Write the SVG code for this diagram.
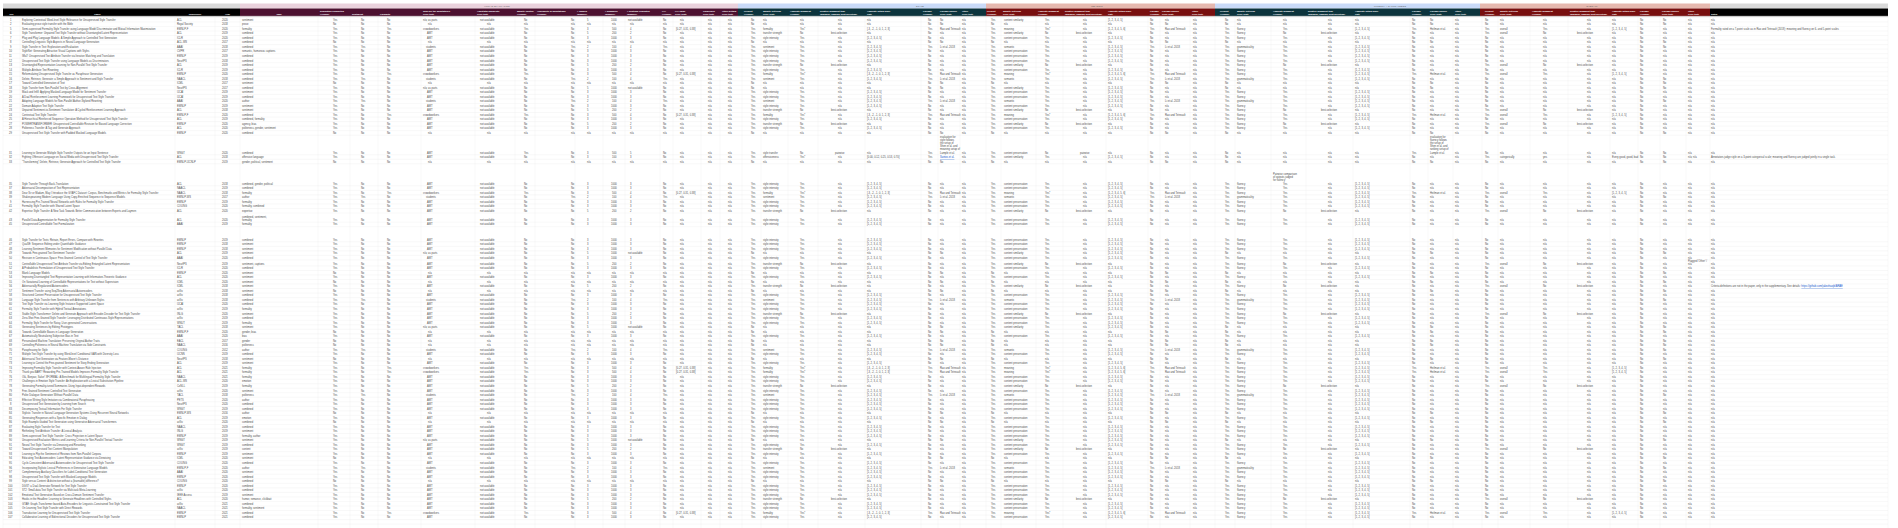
<svg xmlns="http://www.w3.org/2000/svg" width="1898" height="528" viewBox="0 0 1898 528">
<style>
text{font-family:"Liberation Sans",Arial,sans-serif}
.d{font-size:2.6px;fill:#4a4a4a}
.h{font-size:2.3px;fill:#fff;font-weight:bold}
.m{text-anchor:middle}
.gl{font-size:2.2px;fill:#5a5a5a;text-anchor:middle;letter-spacing:.2px}
.lk{fill:#1155cc;text-decoration:underline}
.grid{stroke:#e6e6e6;stroke-width:.3;fill:none}
</style>
<defs>
<g id="tA"><text class="d"><tspan x="333">Yes</tspan><tspan x="361">No</tspan><tspan x="387">No</tspan><tspan x="427">AMT</tspan><tspan x="480">not available</tspan><tspan x="524">No</tspan><tspan x="571">No</tspan><tspan x="587">3</tspan><tspan x="611">1000</tspan><tspan x="630">3</tspan><tspan x="663">No</tspan><tspan x="680">n/a</tspan><tspan x="708">n/a</tspan><tspan x="728">n/a</tspan><tspan x="751">Yes</tspan><tspan x="763">style intensity</tspan><tspan x="800">Yes</tspan><tspan x="838">n/a</tspan><tspan x="867">[1, 2, 3, 4, 5]</tspan><tspan x="928">No</tspan><tspan x="940">n/a</tspan><tspan x="962">n/a</tspan><tspan x="991">Yes</tspan><tspan x="1004">content preservation</tspan><tspan x="1045">Yes</tspan><tspan x="1083">n/a</tspan><tspan x="1108">[1, 2, 3, 4, 5]</tspan><tspan x="1150">No</tspan><tspan x="1165">n/a</tspan><tspan x="1193">n/a</tspan><tspan x="1225">Yes</tspan><tspan x="1237">fluency</tspan><tspan x="1283">Yes</tspan><tspan x="1328">n/a</tspan><tspan x="1355">[1, 2, 3, 4, 5]</tspan><tspan x="1412">No</tspan><tspan x="1430">n/a</tspan><tspan x="1455">n/a</tspan><tspan x="1485">No</tspan><tspan x="1500">n/a</tspan><tspan x="1543">n/a</tspan><tspan x="1587">n/a</tspan><tspan x="1612">n/a</tspan><tspan x="1640">No</tspan><tspan x="1663">n/a</tspan><tspan x="1688">n/a</tspan></text></g>
<g id="tB"><text class="d"><tspan x="333">No</tspan><tspan x="361">No</tspan><tspan x="387">No</tspan><tspan x="428">n/a</tspan><tspan x="487">n/a</tspan><tspan x="524">n/a</tspan><tspan x="571">n/a</tspan><tspan x="587">n/a</tspan><tspan x="612">n/a</tspan><tspan x="630">n/a</tspan><tspan x="663">n/a</tspan><tspan x="680">n/a</tspan><tspan x="708">n/a</tspan><tspan x="728">n/a</tspan><tspan x="751">No</tspan><tspan x="763">n/a</tspan><tspan x="800">n/a</tspan><tspan x="838">n/a</tspan><tspan x="867">n/a</tspan><tspan x="928">No</tspan><tspan x="940">No</tspan><tspan x="962">n/a</tspan><tspan x="991">No</tspan><tspan x="1004">n/a</tspan><tspan x="1045">n/a</tspan><tspan x="1083">n/a</tspan><tspan x="1108">n/a</tspan><tspan x="1150">No</tspan><tspan x="1165">No</tspan><tspan x="1193">n/a</tspan><tspan x="1225">No</tspan><tspan x="1237">n/a</tspan><tspan x="1283">n/a</tspan><tspan x="1328">n/a</tspan><tspan x="1355">n/a</tspan><tspan x="1412">No</tspan><tspan x="1430">No</tspan><tspan x="1455">n/a</tspan><tspan x="1485">No</tspan><tspan x="1500">n/a</tspan><tspan x="1543">n/a</tspan><tspan x="1587">n/a</tspan><tspan x="1612">n/a</tspan><tspan x="1640">No</tspan><tspan x="1663">No</tspan><tspan x="1688">n/a</tspan></text></g>
<g id="tC"><text class="d"><tspan x="333">Yes</tspan><tspan x="361">No</tspan><tspan x="387">No</tspan><tspan x="427">AMT</tspan><tspan x="480">not available</tspan><tspan x="524">No</tspan><tspan x="571">No</tspan><tspan x="587">5</tspan><tspan x="612">200</tspan><tspan x="630">2</tspan><tspan x="663">No</tspan><tspan x="680">n/a</tspan><tspan x="708">n/a</tspan><tspan x="728">n/a</tspan><tspan x="751">Yes</tspan><tspan x="763">transfer strength</tspan><tspan x="800">No</tspan><tspan x="831">best-selection</tspan><tspan x="867">n/a</tspan><tspan x="928">No</tspan><tspan x="940">n/a</tspan><tspan x="962">n/a</tspan><tspan x="991">Yes</tspan><tspan x="1004">content similarity</tspan><tspan x="1045">No</tspan><tspan x="1076">best-selection</tspan><tspan x="1108">n/a</tspan><tspan x="1150">No</tspan><tspan x="1165">n/a</tspan><tspan x="1193">n/a</tspan><tspan x="1225">Yes</tspan><tspan x="1237">fluency</tspan><tspan x="1283">No</tspan><tspan x="1321">best-selection</tspan><tspan x="1355">n/a</tspan><tspan x="1412">No</tspan><tspan x="1430">n/a</tspan><tspan x="1455">n/a</tspan><tspan x="1485">Yes</tspan><tspan x="1500">overall</tspan><tspan x="1543">No</tspan><tspan x="1577">best-selection</tspan><tspan x="1612">n/a</tspan><tspan x="1640">No</tspan><tspan x="1663">n/a</tspan><tspan x="1688">n/a</tspan></text></g>
<g id="tD"><text class="d"><tspan x="333">Yes</tspan><tspan x="361">No</tspan><tspan x="387">No</tspan><tspan x="423">n/a; as parts</tspan><tspan x="480">not available</tspan><tspan x="524">No</tspan><tspan x="571">No</tspan><tspan x="587">5</tspan><tspan x="611">1000</tspan><tspan x="628">not available</tspan><tspan x="663">No</tspan><tspan x="680">n/a</tspan><tspan x="708">n/a</tspan><tspan x="728">n/a</tspan><tspan x="751">No</tspan><tspan x="763">n/a</tspan><tspan x="800">n/a</tspan><tspan x="838">n/a</tspan><tspan x="867">n/a</tspan><tspan x="928">No</tspan><tspan x="940">No</tspan><tspan x="962">n/a</tspan><tspan x="991">Yes</tspan><tspan x="1004">content similarity</tspan><tspan x="1045">Yes</tspan><tspan x="1083">n/a</tspan><tspan x="1108">[1, 2, 3, 4, 5]</tspan><tspan x="1150">No</tspan><tspan x="1165">n/a</tspan><tspan x="1193">n/a</tspan><tspan x="1225">No</tspan><tspan x="1237">n/a</tspan><tspan x="1283">n/a</tspan><tspan x="1328">n/a</tspan><tspan x="1355">n/a</tspan><tspan x="1412">No</tspan><tspan x="1430">No</tspan><tspan x="1455">n/a</tspan><tspan x="1485">No</tspan><tspan x="1500">n/a</tspan><tspan x="1543">n/a</tspan><tspan x="1587">n/a</tspan><tspan x="1612">n/a</tspan><tspan x="1640">No</tspan><tspan x="1663">No</tspan><tspan x="1688">n/a</tspan></text></g>
<g id="tE"><text class="d"><tspan x="333">Yes</tspan><tspan x="361">No</tspan><tspan x="387">Yes</tspan><tspan x="423">crowdworkers</tspan><tspan x="480">not available</tspan><tspan x="524">Yes</tspan><tspan x="571">No</tspan><tspan x="587">3</tspan><tspan x="612">500</tspan><tspan x="630">4</tspan><tspan x="663">No</tspan><tspan x="676">[0.27, 0.31, 0.38]</tspan><tspan x="708">n/a</tspan><tspan x="728">n/a</tspan><tspan x="751">Yes</tspan><tspan x="763">formality</tspan><tspan x="800">Yes*</tspan><tspan x="838">n/a</tspan><tspan x="867">[-3, -2, -1, 0, 1, 2, 3]</tspan><tspan x="928">Yes</tspan><tspan x="940">Rao and Tetreault</tspan><tspan x="962">n/a</tspan><tspan x="991">Yes</tspan><tspan x="1004">meaning</tspan><tspan x="1045">Yes*</tspan><tspan x="1083">n/a</tspan><tspan x="1108">[1, 2, 3, 4, 5, 6]</tspan><tspan x="1150">Yes</tspan><tspan x="1165">Rao and Tetreault</tspan><tspan x="1193">n/a</tspan><tspan x="1225">Yes</tspan><tspan x="1237">fluency</tspan><tspan x="1283">Yes</tspan><tspan x="1328">n/a</tspan><tspan x="1355">[1, 2, 3, 4, 5]</tspan><tspan x="1412">Yes</tspan><tspan x="1430">Heilman et al.</tspan><tspan x="1455">n/a</tspan><tspan x="1485">Yes</tspan><tspan x="1500">overall</tspan><tspan x="1543">Yes</tspan><tspan x="1587">n/a</tspan><tspan x="1612">[1, 2, 3, 4, 5]</tspan><tspan x="1640">No</tspan><tspan x="1663">n/a</tspan><tspan x="1688">n/a</tspan></text></g>
<g id="tF"><text class="d"><tspan x="333">Yes</tspan><tspan x="361">Yes</tspan><tspan x="387">No</tspan><tspan x="426">students</tspan><tspan x="480">not available</tspan><tspan x="524">No</tspan><tspan x="571">Yes</tspan><tspan x="587">2</tspan><tspan x="612">100</tspan><tspan x="630">4</tspan><tspan x="663">Yes</tspan><tspan x="680">n/a</tspan><tspan x="708">n/a</tspan><tspan x="728">n/a</tspan><tspan x="751">Yes</tspan><tspan x="763">sentiment</tspan><tspan x="800">Yes</tspan><tspan x="838">n/a</tspan><tspan x="867">[1, 2, 3, 4, 5]</tspan><tspan x="928">Yes</tspan><tspan x="940">Li et al. 2018</tspan><tspan x="962">n/a</tspan><tspan x="991">Yes</tspan><tspan x="1004">semantic</tspan><tspan x="1045">Yes</tspan><tspan x="1083">n/a</tspan><tspan x="1108">[1, 2, 3, 4, 5]</tspan><tspan x="1150">Yes</tspan><tspan x="1165">Li et al. 2018</tspan><tspan x="1193">n/a</tspan><tspan x="1225">Yes</tspan><tspan x="1237">grammaticality</tspan><tspan x="1283">Yes</tspan><tspan x="1328">n/a</tspan><tspan x="1355">[1, 2, 3, 4, 5]</tspan><tspan x="1412">No</tspan><tspan x="1430">n/a</tspan><tspan x="1455">n/a</tspan><tspan x="1485">No</tspan><tspan x="1500">n/a</tspan><tspan x="1543">n/a</tspan><tspan x="1587">n/a</tspan><tspan x="1612">n/a</tspan><tspan x="1640">No</tspan><tspan x="1663">No</tspan><tspan x="1688">n/a</tspan></text></g>
</defs>
<rect width="1898" height="528" fill="#fff"/>
<g id="header-bands">
<rect x="3" y="3.5" width="237" height="5" fill="#d9d9d9"/>
<rect x="240" y="3.5" width="498" height="5" fill="#ead1dc"/>
<rect x="738" y="3.5" width="248" height="5" fill="#c9daf8"/>
<rect x="986" y="3.5" width="229" height="5" fill="#e6b8af"/>
<rect x="1215" y="3.5" width="265" height="5" fill="#c9daf8"/>
<rect x="1480" y="3.5" width="230" height="5" fill="#e6b8af"/>
<rect x="1710" y="3.5" width="178" height="5" fill="#d9d9d9"/>
<rect x="3" y="8.5" width="237" height="7.7" fill="#000"/>
<rect x="240" y="8.5" width="498" height="7.7" fill="#4c1130"/>
<rect x="738" y="8.5" width="248" height="7.7" fill="#0c343d"/>
<rect x="986" y="8.5" width="229" height="7.7" fill="#780f0f"/>
<rect x="1215" y="8.5" width="265" height="7.7" fill="#0c343d"/>
<rect x="1480" y="8.5" width="230" height="7.7" fill="#780f0f"/>
<rect x="1710" y="8.5" width="178" height="7.7" fill="#000"/>
<text class="gl" x="497" y="7.2">HUMAN EVALUATION</text>
<text class="gl" x="920" y="7.2">STYLE</text>
<text class="gl" x="1097" y="7.2">MEANING</text>
<text class="gl" x="1390" y="7.2">FLUENCY / NATURALNESS</text>
<text class="gl" x="1592" y="7.2">OVERALL</text>
</g>
<g id="header-labels" class="h">
<text class="m" x="11.5" y="14.8">Key</text>
<text class="m" x="97.5" y="14.8">Paper</text>
<text class="m" x="195" y="14.8">Conference</text>
<text class="m" x="227.5" y="14.8">Year</text>
<text class="m" x="279" y="14.8">Task</text>
<text><tspan x="320" y="12.1">Evaluation conducted</tspan><tspan x="320" y="14.8">(Yes/No)</tspan></text>
<text x="352" y="14.8">Sentiment</text>
<text x="380" y="14.8">Formality</text>
<text><tspan x="423" y="12.1">Who are the annotators?</tspan><tspan x="423" y="14.8">(Free text)</tspan></text>
<text><tspan x="477" y="12.1">Annotator payment?</tspan><tspan x="477" y="14.8">(Free text)</tspan></text>
<text><tspan x="517" y="12.1">Quality Control</tspan><tspan x="517" y="14.8">(Yes/No)</tspan></text>
<text><tspan x="537" y="12.1">Availability of annotations</tspan><tspan x="537" y="14.8">(Yes/No)</tspan></text>
<text><tspan x="577" y="12.1"># Judges</tspan><tspan x="577" y="14.8">(number)</tspan></text>
<text><tspan x="605" y="12.1"># Examples</tspan><tspan x="605" y="14.8">(number)</tspan></text>
<text><tspan x="627" y="12.1"># Systems evaluated</tspan><tspan x="627" y="14.8">(number)</tspan></text>
<text><tspan x="662" y="12.1">IAA</tspan><tspan x="662" y="14.8">(Yes/No)</tspan></text>
<text><tspan x="675" y="12.1">IAA value</tspan><tspan x="675" y="14.8">(Free Text)</tspan></text>
<text><tspan x="703" y="12.1">Guidelines</tspan><tspan x="703" y="14.8">(Free text)</tspan></text>
<text><tspan x="722" y="12.1">Other Details</tspan><tspan x="722" y="14.8">(Free text)</tspan></text>
<text><tspan x="744" y="12.1">Present</tspan><tspan x="744" y="14.8">(Yes/No)</tspan></text>
<text><tspan x="763" y="12.1">Quality Criterion</tspan><tspan x="763" y="14.8">(Free Text)</tspan></text>
<text><tspan x="790" y="12.1">Absolute judgment</tspan><tspan x="790" y="14.8">(Yes/No)</tspan></text>
<text><tspan x="820" y="12.1">Relative judgment type</tspan><tspan x="820" y="14.8">(pairwise, ranking, best-selection)</tspan></text>
<text><tspan x="867" y="12.1">Absolute rating scale</tspan><tspan x="867" y="14.8">(list)</tspan></text>
<text><tspan x="923" y="12.1">Lineage</tspan><tspan x="923" y="14.8">(Yes/No)</tspan></text>
<text><tspan x="940" y="12.1">Lineage Source</tspan><tspan x="940" y="14.8">(Free Text)</tspan></text>
<text><tspan x="962" y="12.1">Other</tspan><tspan x="962" y="14.8">(Free text)</tspan></text>
<text><tspan x="987" y="12.1">Present</tspan><tspan x="987" y="14.8">(Yes/No)</tspan></text>
<text><tspan x="1003" y="12.1">Quality Criterion</tspan><tspan x="1003" y="14.8">(Free Text)</tspan></text>
<text><tspan x="1038" y="12.1">Absolute judgment</tspan><tspan x="1038" y="14.8">(Yes/No)</tspan></text>
<text><tspan x="1065" y="12.1">Relative judgment type</tspan><tspan x="1065" y="14.8">(pairwise, ranking, best-selection)</tspan></text>
<text><tspan x="1108" y="12.1">Absolute rating scale</tspan><tspan x="1108" y="14.8">(list)</tspan></text>
<text><tspan x="1150" y="12.1">Lineage</tspan><tspan x="1150" y="14.8">(Yes/No)</tspan></text>
<text><tspan x="1162" y="12.1">Lineage Source</tspan><tspan x="1162" y="14.8">(Free Text)</tspan></text>
<text><tspan x="1192" y="12.1">Other</tspan><tspan x="1192" y="14.8">(Free text)</tspan></text>
<text><tspan x="1220" y="12.1">Present</tspan><tspan x="1220" y="14.8">(Yes/No)</tspan></text>
<text><tspan x="1237" y="12.1">Quality Criterion</tspan><tspan x="1237" y="14.8">(Free Text)</tspan></text>
<text><tspan x="1273" y="12.1">Absolute judgment</tspan><tspan x="1273" y="14.8">(Yes/No)</tspan></text>
<text><tspan x="1308" y="12.1">Relative judgment type</tspan><tspan x="1308" y="14.8">(pairwise, ranking, best-selection)</tspan></text>
<text><tspan x="1355" y="12.1">Absolute rating scale</tspan><tspan x="1355" y="14.8">(list)</tspan></text>
<text><tspan x="1412" y="12.1">Lineage</tspan><tspan x="1412" y="14.8">(Yes/No)</tspan></text>
<text><tspan x="1430" y="12.1">Lineage Source</tspan><tspan x="1430" y="14.8">(Free Text)</tspan></text>
<text><tspan x="1455" y="12.1">Other</tspan><tspan x="1455" y="14.8">(Free text)</tspan></text>
<text><tspan x="1485" y="12.1">Present</tspan><tspan x="1485" y="14.8">(Yes/No)</tspan></text>
<text><tspan x="1500" y="12.1">Quality Criterion</tspan><tspan x="1500" y="14.8">(Free Text)</tspan></text>
<text><tspan x="1532" y="12.1">Absolute judgment</tspan><tspan x="1532" y="14.8">(Yes/No)</tspan></text>
<text><tspan x="1570" y="12.1">Relative judgment type</tspan><tspan x="1570" y="14.8">(pairwise, ranking, best-selection)</tspan></text>
<text><tspan x="1612" y="12.1">Absolute rating scale</tspan><tspan x="1612" y="14.8">(list)</tspan></text>
<text><tspan x="1640" y="12.1">Lineage</tspan><tspan x="1640" y="14.8">(Yes/No)</tspan></text>
<text><tspan x="1662" y="12.1">Lineage Source</tspan><tspan x="1662" y="14.8">(Free text)</tspan></text>
<text><tspan x="1688" y="12.1">Other</tspan><tspan x="1688" y="14.8">(Free text)</tspan></text>
<text x="1711" y="14.8">Notes</text>
</g>
<g id="grid" class="grid">
<path d="M3 17.4h1885M3 21.93h1885M3 26.46h1885M3 30.99h1885M3 35.52h1885M3 40.05h1885M3 44.58h1885M3 49.11h1885M3 53.64h1885M3 58.17h1885M3 62.7h1885M3 67.23h1885M3 71.76h1885M3 76.29h1885M3 80.82h1885M3 85.35h1885M3 89.88h1885M3 94.41h1885M3 98.94h1885M3 103.47h1885M3 108h1885M3 112.53h1885M3 117.06h1885M3 121.59h1885M3 126.12h1885M3 130.65h1885M3 135.18h1885M3 154.8h1885M3 159.3h1885M3 163.8h1885M3 185.8h1885M3 190.33h1885M3 194.86h1885M3 199.39h1885M3 203.92h1885M3 208.45h1885M3 212.98h1885M3 222.2h1885M3 226.7h1885M3 241.8h1885M3 246.33h1885M3 250.86h1885M3 255.39h1885M3 259.92h1885M3 265.9h1885M3 270.43h1885M3 274.96h1885M3 279.49h1885M3 284.02h1885M3 288.55h1885M3 293.08h1885M3 297.61h1885M3 302.14h1885M3 306.67h1885M3 311.2h1885M3 315.73h1885M3 320.26h1885M3 324.79h1885M3 329.32h1885M3 333.85h1885M3 338.38h1885M3 342.91h1885M3 347.44h1885M3 351.97h1885M3 356.5h1885M3 361.03h1885M3 365.56h1885M3 370.09h1885M3 374.62h1885M3 379.15h1885M3 383.68h1885M3 388.21h1885M3 392.74h1885M3 397.27h1885M3 401.8h1885M3 406.33h1885M3 410.86h1885M3 415.39h1885M3 419.92h1885M3 424.45h1885M3 428.98h1885M3 433.51h1885M3 438.04h1885M3 442.57h1885M3 447.1h1885M3 451.63h1885M3 456.16h1885M3 460.69h1885M3 465.22h1885M3 469.75h1885M3 474.28h1885M3 478.81h1885M3 483.34h1885M3 487.87h1885M3 492.4h1885M3 496.93h1885M3 501.46h1885M3 505.99h1885M3 510.52h1885M3 515.05h1885M3 519.58h1885M3 524.11h1885"/>
<path d="M3 16.2V528M20 16.2V528M175 16.2V528M215 16.2V528M240 16.2V528M318 16.2V528M350 16.2V528M378 16.2V528M421 16.2V528M475 16.2V528M515 16.2V528M535 16.2V528M575 16.2V528M603 16.2V528M625 16.2V528M660 16.2V528M673 16.2V528M701 16.2V528M720 16.2V528M742 16.2V528M761 16.2V528M788 16.2V528M818 16.2V528M865 16.2V528M921 16.2V528M938 16.2V528M960 16.2V528M986 16.2V528M1001 16.2V528M1036 16.2V528M1063 16.2V528M1106 16.2V528M1148 16.2V528M1160 16.2V528M1190 16.2V528M1215 16.2V528M1235 16.2V528M1271 16.2V528M1306 16.2V528M1353 16.2V528M1410 16.2V528M1428 16.2V528M1453 16.2V528M1482 16.2V528M1498 16.2V528M1530 16.2V528M1568 16.2V528M1610 16.2V528M1638 16.2V528M1660 16.2V528M1686 16.2V528M1710 16.2V528M1888 16.2V528"/>
<path d="M3 16.2h1885" stroke="#c8c8c8" stroke-width=".5"/>
</g>
<g id="rows">
<g id="row-1"><text class="d" y="20.7"><tspan x="10">1</tspan><tspan x="22">Exploring Contextual Word-level Style Relevance for Unsupervised Style Transfer</tspan><tspan x="177">ACL</tspan><tspan x="222">2020</tspan><tspan x="242">sentiment</tspan><tspan x="1711">n/a</tspan></text><use href="#tD" y="20.7"/></g>
<g id="row-2"><text class="d" y="25.2"><tspan x="10">2</tspan><tspan x="22">Evaluating prose style transfer with the Bible</tspan><tspan x="177">Royal Society</tspan><tspan x="222">2018</tspan><tspan x="242">prose</tspan><tspan x="1711">n/a</tspan></text><use href="#tB" y="25.2"/></g>
<g id="row-3"><text class="d" y="29.7"><tspan x="10">5</tspan><tspan x="22">Semi-supervised Formality Style Transfer using Language Model Discriminator and Mutual Information Maximization</tspan><tspan x="177">EMNLP-F</tspan><tspan x="222">2020</tspan><tspan x="242">formality</tspan><tspan x="1711">Formality rated on a 7-point scale as in Rao and Tetreault (2018); meaning and fluency on 6- and 5-point scales</tspan></text><use href="#tE" y="29.7"/></g>
<g id="row-4"><text class="d" y="34.3"><tspan x="10">6</tspan><tspan x="22">Style Transformer: Unpaired Text Style Transfer without Disentangled Latent Representation</tspan><tspan x="177">ACL</tspan><tspan x="222">2019</tspan><tspan x="242">combined</tspan><tspan x="1711">n/a</tspan></text><use href="#tC" y="34.3"/></g>
<g id="row-5"><text class="d" y="38.8"><tspan x="10">7</tspan><tspan x="22">Plug and Play Language Models: A Simple Approach to Controlled Text Generation</tspan><tspan x="177">ICLR</tspan><tspan x="222">2020</tspan><tspan x="242">combined</tspan><tspan x="1711">n/a</tspan></text><use href="#tA" y="38.8"/></g>
<g id="row-6"><text class="d" y="43.3"><tspan x="10">8</tspan><tspan x="22">Controlling Linguistic Style Aspects in Neural Language Generation</tspan><tspan x="177">ACL-WS</tspan><tspan x="222">2017</tspan><tspan x="242">combined</tspan><tspan x="1711">n/a</tspan></text><use href="#tB" y="43.3"/></g>
<g id="row-7"><text class="d" y="47.9"><tspan x="10">9</tspan><tspan x="22">Style Transfer in Text: Exploration and Evaluation</tspan><tspan x="177">AAAI</tspan><tspan x="222">2018</tspan><tspan x="242">combined</tspan><tspan x="1711">n/a</tspan></text><use href="#tF" y="47.9"/></g>
<g id="row-8"><text class="d" y="52.4"><tspan x="9">10</tspan><tspan x="22">StyleNet: Generating Attractive Visual Captions with Styles</tspan><tspan x="177">CVPR</tspan><tspan x="222">2017</tspan><tspan x="242">romantic, humorous captions</tspan><tspan x="1711">n/a</tspan></text><use href="#tA" y="52.4"/></g>
<g id="row-9"><text class="d" y="56.9"><tspan x="9">11</tspan><tspan x="22">IMaT: Unsupervised Text Attribute Transfer via Iterative Matching and Translation</tspan><tspan x="177">EMNLP</tspan><tspan x="222">2019</tspan><tspan x="242">combined</tspan><tspan x="1711">n/a</tspan></text><use href="#tA" y="56.9"/></g>
<g id="row-10"><text class="d" y="61.5"><tspan x="9">12</tspan><tspan x="22">Unsupervised Text Style Transfer using Language Models as Discriminators</tspan><tspan x="177">NeurIPS</tspan><tspan x="222">2018</tspan><tspan x="242">combined</tspan><tspan x="1711">n/a</tspan></text><use href="#tA" y="61.5"/></g>
<g id="row-11"><text class="d" y="66"><tspan x="9">13</tspan><tspan x="22">Disentangled Representation Learning for Non-Parallel Text Style Transfer</tspan><tspan x="177">ACL</tspan><tspan x="222">2019</tspan><tspan x="242">combined</tspan><tspan x="1711">n/a</tspan></text><use href="#tC" y="66"/></g>
<g id="row-12"><text class="d" y="70.5"><tspan x="9">14</tspan><tspan x="22">Multiple-Attribute Text Rewriting</tspan><tspan x="177">ICLR</tspan><tspan x="222">2019</tspan><tspan x="242">combined</tspan><tspan x="1711">n/a</tspan></text><use href="#tA" y="70.5"/></g>
<g id="row-13"><text class="d" y="75"><tspan x="9">15</tspan><tspan x="22">Reformulating Unsupervised Style Transfer as Paraphrase Generation</tspan><tspan x="177">EMNLP</tspan><tspan x="222">2020</tspan><tspan x="242">combined</tspan><tspan x="1711">n/a</tspan></text><use href="#tE" y="75"/></g>
<g id="row-14"><text class="d" y="79.6"><tspan x="9">16</tspan><tspan x="22">Delete, Retrieve, Generate: a Simple Approach to Sentiment and Style Transfer</tspan><tspan x="177">NAACL</tspan><tspan x="222">2018</tspan><tspan x="242">combined</tspan><tspan x="1711">n/a</tspan></text><use href="#tF" y="79.6"/></g>
<g id="row-15"><text class="d" y="84.1"><tspan x="9">17</tspan><tspan x="22">Toward Controlled Generation of Text</tspan><tspan x="177">ICML</tspan><tspan x="222">2017</tspan><tspan x="242">sentiment</tspan><tspan x="1711">n/a</tspan></text><use href="#tB" y="84.1"/></g>
<g id="row-16"><text class="d" y="88.6"><tspan x="9">18</tspan><tspan x="22">Style Transfer from Non-Parallel Text by Cross-Alignment</tspan><tspan x="177">NeurIPS</tspan><tspan x="222">2017</tspan><tspan x="242">combined</tspan><tspan x="1711">n/a</tspan></text><use href="#tD" y="88.6"/></g>
<g id="row-17"><text class="d" y="93.2"><tspan x="9">19</tspan><tspan x="22">Mask and Infill: Applying Masked Language Model for Sentiment Transfer</tspan><tspan x="177">IJCAI</tspan><tspan x="222">2019</tspan><tspan x="242">sentiment</tspan><tspan x="1711">n/a</tspan></text><use href="#tA" y="93.2"/></g>
<g id="row-18"><text class="d" y="97.7"><tspan x="9">20</tspan><tspan x="22">A Dual Reinforcement Learning Framework for Unsupervised Text Style Transfer</tspan><tspan x="177">IJCAI</tspan><tspan x="222">2019</tspan><tspan x="242">combined</tspan><tspan x="1711">n/a</tspan></text><use href="#tA" y="97.7"/></g>
<g id="row-19"><text class="d" y="102.2"><tspan x="9">21</tspan><tspan x="22">Adapting Language Models for Non-Parallel Author-Stylized Rewriting</tspan><tspan x="177">AAAI</tspan><tspan x="222">2020</tspan><tspan x="242">author</tspan><tspan x="1711">n/a</tspan></text><use href="#tF" y="102.2"/></g>
<g id="row-20"><text class="d" y="106.8"><tspan x="9">22</tspan><tspan x="22">Domain Adaptive Text Style Transfer</tspan><tspan x="177">EMNLP</tspan><tspan x="222">2019</tspan><tspan x="242">sentiment</tspan><tspan x="1711">n/a</tspan></text><use href="#tA" y="106.8"/></g>
<g id="row-21"><text class="d" y="111.3"><tspan x="9">23</tspan><tspan x="22">Unpaired Sentiment-to-Sentiment Translation: A Cycled Reinforcement Learning Approach</tspan><tspan x="177">ACL</tspan><tspan x="222">2018</tspan><tspan x="242">sentiment</tspan><tspan x="1711">n/a</tspan></text><use href="#tC" y="111.3"/></g>
<g id="row-22"><text class="d" y="115.8"><tspan x="9">24</tspan><tspan x="22">Contextual Text Style Transfer</tspan><tspan x="177">EMNLP-F</tspan><tspan x="222">2020</tspan><tspan x="242">combined</tspan><tspan x="1711">n/a</tspan></text><use href="#tE" y="115.8"/></g>
<g id="row-23"><text class="d" y="120.3"><tspan x="9">25</tspan><tspan x="22">A Hierarchical Reinforced Sequence Operation Method for Unsupervised Text Style Transfer</tspan><tspan x="177">ACL</tspan><tspan x="222">2019</tspan><tspan x="242">combined, formality</tspan><tspan x="1711">n/a</tspan></text><use href="#tA" y="120.3"/></g>
<g id="row-24"><text class="d" y="124.9"><tspan x="9">27</tspan><tspan x="22">POWERTRANSFORMER: Unsupervised Controllable Revision for Biased Language Correction</tspan><tspan x="177">EMNLP</tspan><tspan x="222">2020</tspan><tspan x="242">agency, bias</tspan><tspan x="1711">n/a</tspan></text><use href="#tC" y="124.9"/></g>
<g id="row-25"><text class="d" y="129.4"><tspan x="9">28</tspan><tspan x="22">Politeness Transfer: A Tag and Generate Approach</tspan><tspan x="177">ACL</tspan><tspan x="222">2020</tspan><tspan x="242">politeness, gender, sentiment</tspan><tspan x="1711">n/a</tspan></text><use href="#tA" y="129.4"/></g>
<g id="row-26"><text class="d" y="133.9"><tspan x="9">29</tspan><tspan x="22">Unsupervised Text Style Transfer with Padded Masked Language Models</tspan><tspan x="177">EMNLP</tspan><tspan x="222">2020</tspan><tspan x="242">combined</tspan><tspan x="1711">n/a</tspan></text><use href="#tB" y="133.9"/></g>
<g id="row-27"><text class="d" y="153.5"><tspan x="9">31</tspan><tspan x="22">Learning to Generate Multiple Style Transfer Outputs for an Input Sentence</tspan><tspan x="177">WNGT</tspan><tspan x="222">2020</tspan><tspan x="242">combined</tspan><tspan x="333">Yes</tspan><tspan x="361">No</tspan><tspan x="387">No</tspan><tspan x="427">AMT</tspan><tspan x="480">not available</tspan><tspan x="524">Yes</tspan><tspan x="571">No</tspan><tspan x="587">3</tspan><tspan x="612">500</tspan><tspan x="630">5</tspan><tspan x="663">No</tspan><tspan x="680">n/a</tspan><tspan x="708">n/a</tspan><tspan x="728">n/a</tspan><tspan x="751">Yes</tspan><tspan x="763">style transfer</tspan><tspan x="800">No</tspan><tspan x="835">pairwise</tspan><tspan x="867">n/a</tspan><tspan x="928">Yes</tspan><tspan x="940">Lample et al.</tspan><tspan x="962">n/a</tspan><tspan x="991">Yes</tspan><tspan x="1004">content preservation</tspan><tspan x="1045">No</tspan><tspan x="1080">pairwise</tspan><tspan x="1108">n/a</tspan><tspan x="1150">No</tspan><tspan x="1165">n/a</tspan><tspan x="1193">n/a</tspan><tspan x="1225">No</tspan><tspan x="1237">n/a</tspan><tspan x="1283">n/a</tspan><tspan x="1328">n/a</tspan><tspan x="1355">n/a</tspan><tspan x="1412">Yes</tspan><tspan x="1430">Lample et al.</tspan><tspan x="1455">n/a</tspan><tspan x="1485">No</tspan><tspan x="1500">n/a</tspan><tspan x="1543">n/a</tspan><tspan x="1587">n/a</tspan><tspan x="1612">n/a</tspan><tspan x="1640">No</tspan><tspan x="1663">No</tspan><tspan x="1688">n/a</tspan><tspan x="1711">n/a</tspan></text><text class="d"><tspan x="940" y="137.6">evaluation for</tspan><tspan x="940" y="140.8">style follows</tspan><tspan x="940" y="144">the setup of</tspan><tspan x="940" y="147.2">Shen et al. and</tspan><tspan x="940" y="150.4">meaning setup of</tspan><tspan x="1430" y="137.6">evaluation for</tspan><tspan x="1430" y="140.8">fluency follows</tspan><tspan x="1430" y="144">the setup of</tspan><tspan x="1430" y="147.2">Shen et al. and</tspan><tspan x="1430" y="150.4">ranking setup of</tspan></text></g>
<g id="row-28"><text class="d" y="158"><tspan x="9">32</tspan><tspan x="22">Fighting Offensive Language on Social Media with Unsupervised Text Style Transfer</tspan><tspan x="177">ACL</tspan><tspan x="222">2018</tspan><tspan x="242">offensive language</tspan><tspan x="333">Yes</tspan><tspan x="361">No</tspan><tspan x="387">No</tspan><tspan x="427">AMT</tspan><tspan x="480">not available</tspan><tspan x="524">No</tspan><tspan x="571">No</tspan><tspan x="587">3</tspan><tspan x="612">100</tspan><tspan x="630">3</tspan><tspan x="663">No</tspan><tspan x="680">n/a</tspan><tspan x="708">n/a</tspan><tspan x="728">n/a</tspan><tspan x="751">Yes</tspan><tspan x="763">offensiveness</tspan><tspan x="800">Yes*</tspan><tspan x="838">n/a</tspan><tspan x="867">[0.00, 0.12, 0.25, 0.53, 0.70]</tspan><tspan x="928">Yes</tspan><tspan x="940" class="lk">Santos et al.</tspan><tspan x="962">n/a</tspan><tspan x="991">Yes</tspan><tspan x="1004">content similarity</tspan><tspan x="1045">Yes</tspan><tspan x="1083">n/a</tspan><tspan x="1108">[1, 2, 3, 4, 5]</tspan><tspan x="1150">No</tspan><tspan x="1165">n/a</tspan><tspan x="1193">n/a</tspan><tspan x="1225">No</tspan><tspan x="1237">n/a</tspan><tspan x="1283">n/a</tspan><tspan x="1328">n/a</tspan><tspan x="1355">n/a</tspan><tspan x="1412">No</tspan><tspan x="1430">n/a</tspan><tspan x="1455">n/a</tspan><tspan x="1485">Yes</tspan><tspan x="1500">categorically</tspan><tspan x="1543">yes</tspan><tspan x="1587">n/a</tspan><tspan x="1612">Every good, good, bad</tspan><tspan x="1640">No</tspan><tspan x="1663">No</tspan><tspan x="1688">n/a; n/a</tspan><tspan x="1711">Annotators judge style on a 3-point categorical scale; meaning and fluency are judged jointly in a single task.</tspan></text></g>
<g id="row-29"><text class="d" y="162.5"><tspan x="9">33</tspan><tspan x="22">"Transforming" Delete, Retrieve, Generate Approach for Controlled Text Style Transfer</tspan><tspan x="177">EMNLP-IJCNLP</tspan><tspan x="222">2019</tspan><tspan x="242">gender, political, sentiment</tspan><tspan x="1711">n/a</tspan></text><use href="#tB" y="162.5"/></g>
<g id="row-30"><text class="d" y="184.5"><tspan x="9">35</tspan><tspan x="22">Style Transfer Through Back-Translation</tspan><tspan x="177">ACL</tspan><tspan x="222">2018</tspan><tspan x="242">combined, gender, political</tspan><tspan x="1711">n/a</tspan></text><text class="d"><tspan x="1273" y="175.2">Pairwise comparison</tspan><tspan x="1273" y="178.3">of outputs judged</tspan><tspan x="1273" y="181.4">for fluency:</tspan></text><use href="#tA" y="184.5"/></g>
<g id="row-31"><text class="d" y="189.1"><tspan x="9">37</tspan><tspan x="22">Adversarial Decomposition of Text Representation</tspan><tspan x="177">NAACL</tspan><tspan x="222">2019</tspan><tspan x="242">combined</tspan><tspan x="1711">n/a</tspan></text><use href="#tA" y="189.1"/></g>
<g id="row-32"><text class="d" y="193.6"><tspan x="9">38</tspan><tspan x="22">Dear Sir or Madam, May I Introduce the GYAFC Dataset: Corpus, Benchmarks and Metrics for Formality Style Transfer</tspan><tspan x="177">NAACL</tspan><tspan x="222">2018</tspan><tspan x="242">formality</tspan><tspan x="1711">n/a</tspan></text><use href="#tE" y="193.6"/></g>
<g id="row-33"><text class="d" y="198.1"><tspan x="9">39</tspan><tspan x="22">Shakespearizing Modern Language Using Copy-Enriched Sequence to Sequence Models</tspan><tspan x="177">EMNLP-WS</tspan><tspan x="222">2017</tspan><tspan x="242">author</tspan><tspan x="1711">n/a</tspan></text><use href="#tF" y="198.1"/></g>
<g id="row-34"><text class="d" y="202.7"><tspan x="10">9</tspan><tspan x="22">Harnessing Pre-Trained Neural Networks with Rules for Formality Style Transfer</tspan><tspan x="177">EMNLP</tspan><tspan x="222">2019</tspan><tspan x="242">formality</tspan><tspan x="1711">n/a</tspan></text><use href="#tA" y="202.7"/></g>
<g id="row-35"><text class="d" y="207.2"><tspan x="9">41</tspan><tspan x="22">Formality Style Transfer with Shared Latent Space</tspan><tspan x="177">COLING</tspan><tspan x="222">2020</tspan><tspan x="242">formality, combined</tspan><tspan x="1711">n/a</tspan></text><use href="#tA" y="207.2"/></g>
<g id="row-36"><text class="d" y="211.7"><tspan x="9">42</tspan><tspan x="22">Expertise Style Transfer: A New Task Towards Better Communication between Experts and Laymen</tspan><tspan x="177">ACL</tspan><tspan x="222">2020</tspan><tspan x="242">expertise</tspan><tspan x="1711">n/a</tspan></text><use href="#tC" y="211.7"/></g>
<g id="row-37"><text class="d" y="220.9"><tspan x="9">43</tspan><tspan x="22">Parallel Data Augmentation for Formality Style Transfer</tspan><tspan x="177">ACL</tspan><tspan x="222">2020</tspan><tspan x="242" y="217.8">combined, sentiment,</tspan><tspan x="242" y="220.9">formality</tspan><tspan x="1711">n/a</tspan></text><use href="#tA" y="220.9"/></g>
<g id="row-38"><text class="d" y="225.4"><tspan x="9">45</tspan><tspan x="22">Unsupervised Controllable Text Formalization</tspan><tspan x="177">AAAI</tspan><tspan x="222">2019</tspan><tspan x="242">formality</tspan><tspan x="1711">n/a</tspan></text><use href="#tA" y="225.4"/></g>
<g id="row-39"><text class="d" y="240.5"><tspan x="9">46</tspan><tspan x="22">Style Transfer for Texts: Retrain, Report Errors, Compare with Rewrites</tspan><tspan x="177">EMNLP</tspan><tspan x="222">2019</tspan><tspan x="242">combined</tspan><tspan x="1711">n/a</tspan></text><use href="#tA" y="240.5"/></g>
<g id="row-40"><text class="d" y="245.1"><tspan x="9">47</tspan><tspan x="22">QuaSE: Sequence Editing under Quantifiable Guidance</tspan><tspan x="177">EMNLP</tspan><tspan x="222">2018</tspan><tspan x="242">sentiment</tspan><tspan x="1711">n/a</tspan></text><use href="#tA" y="245.1"/></g>
<g id="row-41"><text class="d" y="249.6"><tspan x="9">48</tspan><tspan x="22">Learning Sentiment Memories for Sentiment Modification without Parallel Data</tspan><tspan x="177">EMNLP</tspan><tspan x="222">2018</tspan><tspan x="242">sentiment</tspan><tspan x="1711">n/a</tspan></text><use href="#tA" y="249.6"/></g>
<g id="row-42"><text class="d" y="254.1"><tspan x="9">49</tspan><tspan x="22">Towards Fine-grained Text Sentiment Transfer</tspan><tspan x="177">ACL</tspan><tspan x="222">2019</tspan><tspan x="242">sentiment</tspan><tspan x="1711">n/a</tspan></text><use href="#tD" y="254.1"/></g>
<g id="row-43"><text class="d" y="258.7"><tspan x="9">50</tspan><tspan x="22">Revision in Continuous Space: Fine-Grained Control of Text Style Transfer</tspan><tspan x="177">AAAI</tspan><tspan x="222">2020</tspan><tspan x="242">combined</tspan><tspan x="1711">n/a</tspan></text><use href="#tA" y="258.7"/></g>
<g id="row-44"><text class="d" y="264.6"><tspan x="9">51</tspan><tspan x="22">Controllable Unsupervised Text Attribute Transfer via Editing Entangled Latent Representation</tspan><tspan x="177">NeurIPS</tspan><tspan x="222">2019</tspan><tspan x="242">sentiment, captions</tspan><tspan x="1688" y="261.5">Flagged 'Other' /</tspan><tspan x="1711" y="264.6">n/a</tspan></text><use href="#tC" y="264.6"/></g>
<g id="row-45"><text class="d" y="269.2"><tspan x="9">52</tspan><tspan x="22">A Probabilistic Formulation of Unsupervised Text Style Transfer</tspan><tspan x="177">ICLR</tspan><tspan x="222">2020</tspan><tspan x="242">combined</tspan><tspan x="1711">n/a</tspan></text><use href="#tA" y="269.2"/></g>
<g id="row-46"><text class="d" y="273.7"><tspan x="9">53</tspan><tspan x="22">Blank Language Models</tspan><tspan x="177">EMNLP</tspan><tspan x="222">2020</tspan><tspan x="242">sentiment</tspan><tspan x="1711">n/a</tspan></text><use href="#tB" y="273.7"/></g>
<g id="row-47"><text class="d" y="278.2"><tspan x="9">54</tspan><tspan x="22">Improving Disentangled Text Representation Learning with Information-Theoretic Guidance</tspan><tspan x="177">ACL</tspan><tspan x="222">2020</tspan><tspan x="242">sentiment</tspan><tspan x="1711">n/a</tspan></text><use href="#tA" y="278.2"/></g>
<g id="row-48"><text class="d" y="282.8"><tspan x="9">55</tspan><tspan x="22">On Variational Learning of Controllable Representations for Text without Supervision</tspan><tspan x="177">ICML</tspan><tspan x="222">2020</tspan><tspan x="242">sentiment</tspan><tspan x="1711">n/a</tspan></text><use href="#tB" y="282.8"/></g>
<g id="row-49"><text class="d" y="287.3"><tspan x="9">56</tspan><tspan x="22">Adversarially Regularized Autoencoders</tspan><tspan x="177">ICML</tspan><tspan x="222">2018</tspan><tspan x="242">sentiment</tspan><tspan x="1711">Criteria definitions are not in the paper, only in the supplementary. See details: </tspan><tspan class="lk">https://github.com/jakezhaojb/ARAE</tspan></text><use href="#tC" y="287.3"/></g>
<g id="row-50"><text class="d" y="291.8"><tspan x="9">57</tspan><tspan x="22">Sentiment Transfer using Seq2Seq Adversarial Autoencoders</tspan><tspan x="177">arXiv</tspan><tspan x="222">2018</tspan><tspan x="242">sentiment</tspan><tspan x="1711">n/a</tspan></text><use href="#tB" y="291.8"/></g>
<g id="row-51"><text class="d" y="296.4"><tspan x="9">58</tspan><tspan x="22">Structured Content Preservation for Unsupervised Text Style Transfer</tspan><tspan x="177">arXiv</tspan><tspan x="222">2018</tspan><tspan x="242">combined</tspan><tspan x="1711">n/a</tspan></text><use href="#tA" y="296.4"/></g>
<g id="row-52"><text class="d" y="300.9"><tspan x="9">59</tspan><tspan x="22">Language Style Transfer from Sentences with Arbitrary Unknown Styles</tspan><tspan x="177">arXiv</tspan><tspan x="222">2018</tspan><tspan x="242">combined</tspan><tspan x="1711">n/a</tspan></text><use href="#tF" y="300.9"/></g>
<g id="row-53"><text class="d" y="305.4"><tspan x="9">60</tspan><tspan x="22">Text Style Transfer via Learning Style Instance Supported Latent Space</tspan><tspan x="177">IJCAI</tspan><tspan x="222">2020</tspan><tspan x="242">combined</tspan><tspan x="1711">n/a</tspan></text><use href="#tA" y="305.4"/></g>
<g id="row-54"><text class="d" y="310"><tspan x="9">61</tspan><tspan x="22">Formality Style Transfer with Hybrid Textual Annotations</tspan><tspan x="177">arXiv</tspan><tspan x="222">2019</tspan><tspan x="242">formality</tspan><tspan x="1711">n/a</tspan></text><use href="#tA" y="310"/></g>
<g id="row-55"><text class="d" y="314.5"><tspan x="9">62</tspan><tspan x="22">Stable Style Transformer: Delete and Generate Approach with Encoder-Decoder for Text Style Transfer</tspan><tspan x="177">INLG</tspan><tspan x="222">2020</tspan><tspan x="242">sentiment</tspan><tspan x="1711">n/a</tspan></text><use href="#tC" y="314.5"/></g>
<g id="row-56"><text class="d" y="319"><tspan x="9">63</tspan><tspan x="22">Zero-Shot Fine-Grained Style Transfer: Leveraging Distributed Continuous Style Representations</tspan><tspan x="177">arXiv</tspan><tspan x="222">2019</tspan><tspan x="242">combined</tspan><tspan x="1711">n/a</tspan></text><use href="#tA" y="319"/></g>
<g id="row-57"><text class="d" y="323.5"><tspan x="9">64</tspan><tspan x="22">Formality Style Transfer for Noisy, User-generated Conversations</tspan><tspan x="177">WNUT</tspan><tspan x="222">2019</tspan><tspan x="242">formality</tspan><tspan x="1711">n/a</tspan></text><use href="#tA" y="323.5"/></g>
<g id="row-58"><text class="d" y="328.1"><tspan x="9">65</tspan><tspan x="22">Generating Sentences by Editing Prototypes</tspan><tspan x="177">TACL</tspan><tspan x="222">2018</tspan><tspan x="242">sentiment</tspan><tspan x="1711">n/a</tspan></text><use href="#tD" y="328.1"/></g>
<g id="row-59"><text class="d" y="332.6"><tspan x="9">66</tspan><tspan x="22">Towards Controllable Biases in Language Generation</tspan><tspan x="177">EMNLP-F</tspan><tspan x="222">2020</tspan><tspan x="242">gender, bias</tspan><tspan x="1711">n/a</tspan></text><use href="#tB" y="332.6"/></g>
<g id="row-60"><text class="d" y="337.1"><tspan x="9">67</tspan><tspan x="22">Automatically Neutralizing Subjective Bias in Text</tspan><tspan x="177">AAAI</tspan><tspan x="222">2020</tspan><tspan x="242">bias</tspan><tspan x="1711">n/a</tspan></text><use href="#tA" y="337.1"/></g>
<g id="row-61"><text class="d" y="341.7"><tspan x="9">68</tspan><tspan x="22">Personalized Machine Translation: Preserving Original Author Traits</tspan><tspan x="177">EACL</tspan><tspan x="222">2017</tspan><tspan x="242">gender</tspan><tspan x="1711">n/a</tspan></text><use href="#tB" y="341.7"/></g>
<g id="row-62"><text class="d" y="346.2"><tspan x="9">69</tspan><tspan x="22">Controlling Politeness in Neural Machine Translation via Side Constraints</tspan><tspan x="177">NAACL</tspan><tspan x="222">2016</tspan><tspan x="242">politeness</tspan><tspan x="1711">n/a</tspan></text><use href="#tB" y="346.2"/></g>
<g id="row-63"><text class="d" y="350.7"><tspan x="9">70</tspan><tspan x="22">Paraphrasing for Style</tspan><tspan x="177">COLING</tspan><tspan x="222">2012</tspan><tspan x="242">author</tspan><tspan x="1711">n/a</tspan></text><use href="#tF" y="350.7"/></g>
<g id="row-64"><text class="d" y="355.3"><tspan x="9">71</tspan><tspan x="22">Multiple Text Style Transfer by using Word-level Conditional GAN with Diversity Loss</tspan><tspan x="177">IJCNN</tspan><tspan x="222">2019</tspan><tspan x="242">combined</tspan><tspan x="1711">n/a</tspan></text><use href="#tA" y="355.3"/></g>
<g id="row-65"><text class="d" y="359.8"><tspan x="9">72</tspan><tspan x="22">Adversarial Text Generation via Feature-Mover's Distance</tspan><tspan x="177">NeurIPS</tspan><tspan x="222">2018</tspan><tspan x="242">sentiment</tspan><tspan x="1711">n/a</tspan></text><use href="#tB" y="359.8"/></g>
<g id="row-66"><text class="d" y="364.3"><tspan x="9">73</tspan><tspan x="22">Learning to Control the Fine-grained Sentiment for Story Ending Generation</tspan><tspan x="177">ACL</tspan><tspan x="222">2019</tspan><tspan x="242">sentiment</tspan><tspan x="1711">n/a</tspan></text><use href="#tA" y="364.3"/></g>
<g id="row-67"><text class="d" y="368.8"><tspan x="9">74</tspan><tspan x="22">Improving Formality Style Transfer with Context-Aware Rule Injection</tspan><tspan x="177">ACL</tspan><tspan x="222">2021</tspan><tspan x="242">formality</tspan><tspan x="1711">n/a</tspan></text><use href="#tE" y="368.8"/></g>
<g id="row-68"><text class="d" y="373.4"><tspan x="9">75</tspan><tspan x="22">Thank you BART! Rewarding Pre-Trained Models Improves Formality Style Transfer</tspan><tspan x="177">ACL</tspan><tspan x="222">2021</tspan><tspan x="242">formality</tspan><tspan x="1711">n/a</tspan></text><use href="#tE" y="373.4"/></g>
<g id="row-69"><text class="d" y="377.9"><tspan x="9">76</tspan><tspan x="22">Olá, Bonjour, Salve! XFORMAL: A Benchmark for Multilingual Formality Style Transfer</tspan><tspan x="177">NAACL</tspan><tspan x="222">2021</tspan><tspan x="242">formality</tspan><tspan x="1711">n/a</tspan></text><use href="#tA" y="377.9"/></g>
<g id="row-70"><text class="d" y="382.4"><tspan x="9">77</tspan><tspan x="22">Challenges in Emotion Style Transfer: An Exploration with a Lexical Substitution Pipeline</tspan><tspan x="177">ACL-WS</tspan><tspan x="222">2020</tspan><tspan x="242">emotion</tspan><tspan x="1711">n/a</tspan></text><use href="#tA" y="382.4"/></g>
<g id="row-71"><text class="d" y="387"><tspan x="9">78</tspan><tspan x="22">Generating Formality-tuned Summaries Using Input-dependent Rewards</tspan><tspan x="177">CoNLL</tspan><tspan x="222">2019</tspan><tspan x="242">formality</tspan><tspan x="1711">n/a</tspan></text><use href="#tC" y="387"/></g>
<g id="row-72"><text class="d" y="391.5"><tspan x="9">79</tspan><tspan x="22">Fine-Grained Sentiment Controlled Text Generation</tspan><tspan x="177">arXiv</tspan><tspan x="222">2020</tspan><tspan x="242">sentiment</tspan><tspan x="1711">n/a</tspan></text><use href="#tA" y="391.5"/></g>
<g id="row-73"><text class="d" y="396"><tspan x="9">80</tspan><tspan x="22">Polite Dialogue Generation Without Parallel Data</tspan><tspan x="177">TACL</tspan><tspan x="222">2018</tspan><tspan x="242">politeness</tspan><tspan x="1711">n/a</tspan></text><use href="#tF" y="396"/></g>
<g id="row-74"><text class="d" y="400.6"><tspan x="9">81</tspan><tspan x="22">Effective Writing Style Imitation via Combinatorial Paraphrasing</tspan><tspan x="177">PETS</tspan><tspan x="222">2020</tspan><tspan x="242">author</tspan><tspan x="1711">n/a</tspan></text><use href="#tA" y="400.6"/></g>
<g id="row-75"><text class="d" y="405.1"><tspan x="10">8</tspan><tspan x="22">Unsupervised Text Generation by Learning from Search</tspan><tspan x="177">NeurIPS</tspan><tspan x="222">2020</tspan><tspan x="242">combined</tspan><tspan x="1711">n/a</tspan></text><use href="#tA" y="405.1"/></g>
<g id="row-76"><text class="d" y="409.6"><tspan x="9">83</tspan><tspan x="22">Decomposing Textual Information For Style Transfer</tspan><tspan x="177">WNGT</tspan><tspan x="222">2019</tspan><tspan x="242">combined</tspan><tspan x="1711">n/a</tspan></text><use href="#tA" y="409.6"/></g>
<g id="row-77"><text class="d" y="414.1"><tspan x="9">84</tspan><tspan x="22">Stylistic Transfer in Natural Language Generation Systems Using Recurrent Neural Networks</tspan><tspan x="177">EMNLP-WS</tspan><tspan x="222">2016</tspan><tspan x="242">author</tspan><tspan x="1711">n/a</tspan></text><use href="#tB" y="414.1"/></g>
<g id="row-78"><text class="d" y="418.7"><tspan x="9">85</tspan><tspan x="22">Generating Responses with a Specific Emotion in Dialog</tspan><tspan x="177">ACL</tspan><tspan x="222">2019</tspan><tspan x="242">emotion</tspan><tspan x="1711">n/a</tspan></text><use href="#tA" y="418.7"/></g>
<g id="row-79"><text class="d" y="423.2"><tspan x="9">86</tspan><tspan x="22">Style Example-Guided Text Generation using Generative Adversarial Transformers</tspan><tspan x="177">arXiv</tspan><tspan x="222">2020</tspan><tspan x="242">combined</tspan><tspan x="1711">n/a</tspan></text><use href="#tB" y="423.2"/></g>
<g id="row-80"><text class="d" y="427.7"><tspan x="9">87</tspan><tspan x="22">Evaluating Style Transfer for Text</tspan><tspan x="177">NAACL</tspan><tspan x="222">2019</tspan><tspan x="242">combined</tspan><tspan x="1711">n/a</tspan></text><use href="#tA" y="427.7"/></g>
<g id="row-81"><text class="d" y="432.3"><tspan x="9">88</tspan><tspan x="22">Rethinking Text Attribute Transfer: A Lexical Analysis</tspan><tspan x="177">INLG</tspan><tspan x="222">2019</tspan><tspan x="242">sentiment</tspan><tspan x="1711">n/a</tspan></text><use href="#tA" y="432.3"/></g>
<g id="row-82"><text class="d" y="436.8"><tspan x="9">89</tspan><tspan x="22">Semi-supervised Text Style Transfer: Cross Projection in Latent Space</tspan><tspan x="177">EMNLP</tspan><tspan x="222">2019</tspan><tspan x="242">formality, author</tspan><tspan x="1711">n/a</tspan></text><use href="#tA" y="436.8"/></g>
<g id="row-83"><text class="d" y="441.3"><tspan x="9">90</tspan><tspan x="22">Unsupervised Evaluation Metrics and Learning Criteria for Non-Parallel Textual Transfer</tspan><tspan x="177">WNGT</tspan><tspan x="222">2019</tspan><tspan x="242">sentiment</tspan><tspan x="1711">n/a</tspan></text><use href="#tD" y="441.3"/></g>
<g id="row-84"><text class="d" y="445.9"><tspan x="9">91</tspan><tspan x="22">Neural Text Style Transfer via Denoising and Reranking</tspan><tspan x="177">WNGT</tspan><tspan x="222">2019</tspan><tspan x="242">combined</tspan><tspan x="1711">n/a</tspan></text><use href="#tA" y="445.9"/></g>
<g id="row-85"><text class="d" y="450.4"><tspan x="9">92</tspan><tspan x="22">Toward Unsupervised Text Content Manipulation</tspan><tspan x="177">arXiv</tspan><tspan x="222">2019</tspan><tspan x="242">content</tspan><tspan x="1711">n/a</tspan></text><use href="#tC" y="450.4"/></g>
<g id="row-86"><text class="d" y="454.9"><tspan x="9">93</tspan><tspan x="22">Learning to Flip the Sentiment of Reviews from Non-Parallel Corpora</tspan><tspan x="177">EMNLP</tspan><tspan x="222">2019</tspan><tspan x="242">sentiment</tspan><tspan x="1711">n/a</tspan></text><use href="#tA" y="454.9"/></g>
<g id="row-87"><text class="d" y="459.4"><tspan x="9">94</tspan><tspan x="22">Educating Text Autoencoders: Latent Representation Guidance via Denoising</tspan><tspan x="177">ICML</tspan><tspan x="222">2020</tspan><tspan x="242">sentiment</tspan><tspan x="1711">n/a</tspan></text><use href="#tB" y="459.4"/></g>
<g id="row-88"><text class="d" y="464"><tspan x="9">95</tspan><tspan x="22">Cycle-Consistent Adversarial Autoencoders for Unsupervised Text Style Transfer</tspan><tspan x="177">COLING</tspan><tspan x="222">2020</tspan><tspan x="242">combined</tspan><tspan x="1711">n/a</tspan></text><use href="#tA" y="464"/></g>
<g id="row-89"><text class="d" y="468.5"><tspan x="9">96</tspan><tspan x="22">Incorporating Stylistic Lexical Preferences in Generative Language Models</tspan><tspan x="177">EMNLP-F</tspan><tspan x="222">2020</tspan><tspan x="242">author</tspan><tspan x="1711">n/a</tspan></text><use href="#tF" y="468.5"/></g>
<g id="row-90"><text class="d" y="473"><tspan x="9">97</tspan><tspan x="22">Complementary Auxiliary Classifiers for Label-Conditional Text Generation</tspan><tspan x="177">AAAI</tspan><tspan x="222">2020</tspan><tspan x="242">sentiment</tspan><tspan x="1711">n/a</tspan></text><use href="#tA" y="473"/></g>
<g id="row-91"><text class="d" y="477.6"><tspan x="9">98</tspan><tspan x="22">Unsupervised Text Style Transfer with Masked Language Models</tspan><tspan x="177">EMNLP</tspan><tspan x="222">2020</tspan><tspan x="242">combined</tspan><tspan x="1711">n/a</tspan></text><use href="#tA" y="477.6"/></g>
<g id="row-92"><text class="d" y="482.1"><tspan x="9">99</tspan><tspan x="22">Style versus Content: A distinction without a (learnable) difference?</tspan><tspan x="177">COLING</tspan><tspan x="222">2020</tspan><tspan x="242">combined</tspan><tspan x="1711">n/a</tspan></text><use href="#tB" y="482.1"/></g>
<g id="row-93"><text class="d" y="486.6"><tspan x="8">100</tspan><tspan x="22">DGST: a Dual-Generator Network for Text Style Transfer</tspan><tspan x="177">EMNLP</tspan><tspan x="222">2020</tspan><tspan x="242">combined</tspan><tspan x="1711">n/a</tspan></text><use href="#tA" y="486.6"/></g>
<g id="row-94"><text class="d" y="491.2"><tspan x="8">101</tspan><tspan x="22">ST2: Small-data Text Style Transfer via Multi-task Meta-Learning</tspan><tspan x="177">arXiv</tspan><tspan x="222">2020</tspan><tspan x="242">combined</tspan><tspan x="1711">n/a</tspan></text><use href="#tA" y="491.2"/></g>
<g id="row-95"><text class="d" y="495.7"><tspan x="8">102</tspan><tspan x="22">Emotional Text Generation Based on Cross-Domain Sentiment Transfer</tspan><tspan x="177">IEEE Access</tspan><tspan x="222">2019</tspan><tspan x="242">sentiment</tspan><tspan x="1711">n/a</tspan></text><use href="#tA" y="495.7"/></g>
<g id="row-96"><text class="d" y="500.2"><tspan x="8">103</tspan><tspan x="22">Hooks in the Headline: Learning to Generate Headlines with Controlled Styles</tspan><tspan x="177">ACL</tspan><tspan x="222">2020</tspan><tspan x="242">humor, romance, clickbait</tspan><tspan x="1711">n/a</tspan></text><use href="#tC" y="500.2"/></g>
<g id="row-97"><text class="d" y="504.7"><tspan x="8">104</tspan><tspan x="22">GTAE: Graph-Transformer based Auto-Encoders for Linguistic-Constrained Text Style Transfer</tspan><tspan x="177">arXiv</tspan><tspan x="222">2021</tspan><tspan x="242">combined</tspan><tspan x="1711">n/a</tspan></text><use href="#tA" y="504.7"/></g>
<g id="row-98"><text class="d" y="509.3"><tspan x="8">105</tspan><tspan x="22">On Learning Text Style Transfer with Direct Rewards</tspan><tspan x="177">NAACL</tspan><tspan x="222">2021</tspan><tspan x="242">formality, sentiment</tspan><tspan x="1711">n/a</tspan></text><use href="#tA" y="509.3"/></g>
<g id="row-99"><text class="d" y="513.8"><tspan x="8">106</tspan><tspan x="22">Transductive Learning for Unsupervised Text Style Transfer</tspan><tspan x="177">EMNLP</tspan><tspan x="222">2021</tspan><tspan x="242">combined</tspan><tspan x="1711">n/a</tspan></text><use href="#tE" y="513.8"/></g>
<g id="row-100"><text class="d" y="518.3"><tspan x="8">107</tspan><tspan x="22">Collaborative Learning of Bidirectional Decoders for Unsupervised Text Style Transfer</tspan><tspan x="177">EMNLP</tspan><tspan x="222">2021</tspan><tspan x="242">combined</tspan><tspan x="1711">n/a</tspan></text><use href="#tA" y="518.3"/></g>
</g>
</svg>
